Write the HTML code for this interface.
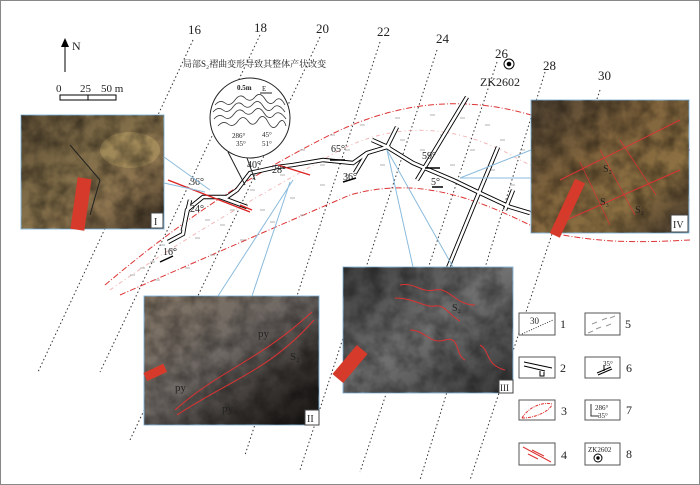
<!DOCTYPE html>
<html><head><meta charset="utf-8"><style>
html,body{margin:0;padding:0;background:#fff}
svg{display:block}
text{font-family:"Liberation Serif","Noto Serif CJK SC",serif;fill:#222}
</style></head><body>
<svg width="700" height="485" viewBox="0 0 700 485" xmlns="http://www.w3.org/2000/svg">
<defs>
<linearGradient id="g1" x1="0" y1="0" x2="1" y2="1"><stop offset="0" stop-color="#5e4e35"/><stop offset=".45" stop-color="#84704a"/><stop offset=".7" stop-color="#8e7550"/><stop offset="1" stop-color="#352b20"/></linearGradient>
<linearGradient id="g4" x1="0" y1="0" x2="1" y2="1"><stop offset="0" stop-color="#4f4232"/><stop offset=".4" stop-color="#80643d"/><stop offset=".7" stop-color="#8c7042"/><stop offset="1" stop-color="#40342a"/></linearGradient>
<linearGradient id="g2" x1="0" y1="0" x2="1" y2="1"><stop offset="0" stop-color="#857766"/><stop offset=".45" stop-color="#6e6864"/><stop offset=".75" stop-color="#34302d"/><stop offset="1" stop-color="#141210"/></linearGradient>
<linearGradient id="g3" x1="0" y1="0" x2="1" y2="1"><stop offset="0" stop-color="#3c3c3c"/><stop offset=".5" stop-color="#707070"/><stop offset="1" stop-color="#353535"/></linearGradient>
<filter id="tex" x="0" y="0" width="100%" height="100%"><feTurbulence type="fractalNoise" baseFrequency="0.06" numOctaves="3" seed="4"/><feColorMatrix type="matrix" values="0 0 0 0 0  0 0 0 0 0  0 0 0 0 0  0 0 0 -1.6 1.1"/></filter>
</defs>
<rect x="0.5" y="0.5" width="699" height="484" fill="#fff" stroke="#888"/>
<g stroke="#333" stroke-width="1" stroke-dasharray="1.5,2.5" fill="none">
<line x1="193" y1="40" x2="38" y2="372"/>
<line x1="260" y1="35" x2="100" y2="372"/>
<line x1="320" y1="37" x2="130" y2="440"/>
<line x1="380" y1="42" x2="245" y2="455"/>
<line x1="437" y1="50" x2="300" y2="470"/>
<line x1="497" y1="62" x2="360" y2="472"/>
<line x1="545" y1="72" x2="420" y2="480"/>
<line x1="600" y1="90" x2="470" y2="480"/>
</g>
<g font-size="13"><text x="188" y="34">16</text><text x="254" y="32">18</text><text x="316" y="33">20</text><text x="377" y="36">22</text><text x="436" y="43">24</text><text x="495" y="58">26</text><text x="543" y="70">28</text><text x="598" y="80">30</text></g>
<line x1="65" y1="72" x2="65" y2="43" stroke="#000"/><path d="M61,47 L65,38 L69,47 Z" fill="#000"/>
<text x="72" y="50" font-size="12">N</text>
<text x="56" y="92" font-size="11">0</text><text x="80" y="92" font-size="11">25</text><text x="101" y="92" font-size="11">50 m</text>
<rect x="60" y="95" width="56" height="5" fill="none" stroke="#000"/><line x1="88" y1="95" x2="88" y2="100" stroke="#000"/>
<path d="M105,285 C170,230 240,180 330,135 C380,110 430,100 480,105 C540,110 600,145 690,150" fill="none" stroke="#d33" stroke-dasharray="6,2,1,2"/>
<path d="M120,295 C200,260 280,225 350,195 C420,175 480,200 540,230 C600,245 650,242 690,240" fill="none" stroke="#d33" stroke-dasharray="6,2,1,2"/>
<path d="M110,290 C180,240 260,195 340,150 C400,120 460,125 520,160 C600,200 650,200 690,200" fill="none" stroke="#e99" stroke-dasharray="4,3,1,3" opacity=".7"/>
<g stroke="#999" stroke-width=".8" fill="none">
<path d="M130,275 h5 M150,262 h5 M170,250 h5 M195,238 h5 M220,225 h5 M260,210 h5 M290,198 h5 M320,185 h5 M345,175 h5 M300,150 h5 M330,135 h5 M360,125 h5 M395,118 h5 M430,115 h5 M460,118 h5 M485,125 h5 M500,140 h5 M520,150 h5 M560,170 h5 M590,180 h5 M620,190 h5 M650,195 h5 M400,140 h5 M420,150 h5 M440,135 h5 M470,150 h5 M490,170 h5 M510,185 h5 M380,165 h5 M345,150 h5 M320,165 h5 M280,175 h5 M250,190 h5 M230,210 h5 M205,220 h5 M180,230 h5 M160,245 h5 M140,268 h5 M450,165 h5 M540,190 h5 M560,215 h5 M600,225 h5 M630,215 h5 M660,220 h5 M300,215 h5 M270,222 h5 M240,240 h5 M210,255 h5 M185,268 h5 M155,280 h5"/>
</g>
<g fill="none" stroke-linejoin="miter">
<g stroke="#000" stroke-width="4.4">
<path d="M168,242 L183,234 L187,210 L203,197 L227,197 L237,190 L250,173 L277,167 L293,165 L323,160 L353,163 L367,153 L387,147 L413,163 L453,180 L480,193 L510,207 L530,213"/>
<path d="M387,147 L397,127 M367,153 L355,173 M467,97 L417,180 M498,147 L473,207 L448,268 M190,200 L183,230 M220,197 L247,207 M513,190 L505,210 M372,140 L390,148"/>
</g>
<g stroke="#fff" stroke-width="2.6">
<path d="M168,242 L183,234 L187,210 L203,197 L227,197 L237,190 L250,173 L277,167 L293,165 L323,160 L353,163 L367,153 L387,147 L413,163 L453,180 L480,193 L510,207 L530,213"/>
<path d="M387,147 L397,127 M367,153 L355,173 M467,97 L417,180 M498,147 L473,207 L448,268 M190,200 L183,230 M220,197 L247,207 M513,190 L505,210 M372,140 L390,148"/>
</g>
</g>
<g stroke="#d22" stroke-width="1.3"><line x1="168" y1="180" x2="250" y2="212"/><line x1="278" y1="165" x2="310" y2="175"/><line x1="240" y1="205" x2="252" y2="210"/></g>
<g font-size="10"><text x="190" y="185">36°</text><text x="190" y="212">24°</text><text x="163" y="255">16°</text><text x="247" y="168">40°</text><text x="272" y="173">28°</text><text x="331" y="152">65°</text><text x="343" y="180">36°</text><text x="422" y="159">59°</text><text x="431" y="185">5°</text></g>
<g stroke="#000" stroke-width="1.5"><line x1="160" y1="262" x2="173" y2="256"/><line x1="330" y1="160" x2="345" y2="160"/><line x1="343" y1="182" x2="356" y2="178"/><line x1="425" y1="168" x2="440" y2="168"/><line x1="432" y1="187" x2="443" y2="187"/></g>
<text x="183" y="67" font-size="9">局部S₂褶曲变形导致其整体产状改变</text>
<circle cx="250" cy="118" r="40" fill="#fff" stroke="#222"/>
<line x1="228" y1="152" x2="245" y2="185" stroke="#222"/><line x1="247" y1="158" x2="255" y2="180" stroke="#222"/>
<text x="237" y="90" font-size="7" font-weight="bold">0.5m</text><text x="262" y="91" font-size="7">E</text>
<path d="M260,93 h12" stroke="#222"/>
<g stroke="#333" fill="none" stroke-width=".8"><path d="M215,105 q5,-6 10,-2 t10,-3 t10,-2 t10,-1 t10,2 t10,2 t10,4"/><path d="M213,112 q5,-6 10,-2 t10,-3 t10,-2 t10,-1 t10,2 t10,2 t12,4"/><path d="M214,119 q5,-6 10,-2 t10,-3 t10,-2 t10,-1 t10,2 t10,2 t12,4"/><path d="M218,126 q5,-6 10,-2 t10,-3 t10,0 t10,-1 t10,2 t10,2 t8,2"/></g>
<g font-size="7"><text x="232" y="138">286°</text><text x="236" y="146">35°</text><text x="262" y="137">45°</text><text x="262" y="146">51°</text></g>
<circle cx="509" cy="64" r="5" fill="none" stroke="#000"/><circle cx="509" cy="64" r="2.3" fill="#000"/>
<text x="480" y="86" font-size="12">ZK2602</text>
<g stroke="#8bbbdc" stroke-width="1"><line x1="164" y1="157" x2="210" y2="190"/><line x1="164" y1="183" x2="205" y2="192"/><line x1="218" y1="296" x2="293" y2="180"/><line x1="252" y1="296" x2="290" y2="182"/><line x1="413" y1="267" x2="387" y2="150"/><line x1="453" y1="267" x2="387" y2="150"/><line x1="531" y1="150" x2="460" y2="178"/><line x1="531" y1="178" x2="460" y2="178"/></g>
<!-- photo I -->
<rect x="21" y="115" width="143" height="114" fill="url(#g1)" stroke="#8bbbdc"/>
<ellipse cx="130" cy="150" rx="30" ry="18" fill="#b39a62" opacity=".6"/>
<rect x="21" y="115" width="143" height="114" filter="url(#tex)" opacity=".5"/>
<path d="M70,145 L100,180 L90,215" stroke="#222" fill="none"/>
<rect x="74" y="178" width="14" height="52" fill="#d63a2a" transform="rotate(8 81 204)"/>
<rect x="151" y="213" width="12" height="15" fill="#fff" stroke="#444"/><text x="154" y="225" font-size="10">I</text>
<!-- photo IV -->
<rect x="531" y="100" width="158" height="133" fill="url(#g4)" stroke="#8bbbdc"/>
<rect x="531" y="100" width="158" height="133" filter="url(#tex)" opacity=".5"/>
<path d="M560,180 L680,120 M555,225 L680,170" stroke="#d33" fill="none"/>
<path d="M580,162 L610,225 M600,150 L635,215 M620,140 L656,195" stroke="#d33" fill="none" stroke-width=".7"/>
<rect x="562" y="178" width="11" height="60" fill="#d63a2a" transform="rotate(25 567 208)"/>
<g fill="#d33" font-size="10"><text x="603" y="172">S₂</text><text x="600" y="205">S₃</text><text x="635" y="213">S₃</text></g>
<rect x="671" y="215" width="17" height="17" fill="#fff" stroke="#444"/><text x="673" y="228" font-size="10">IV</text>
<!-- photo II -->
<rect x="144" y="296" width="175" height="129" fill="url(#g2)" stroke="#8bbbdc"/>
<rect x="144" y="296" width="175" height="129" filter="url(#tex)" opacity=".45"/>
<path d="M175,410 C220,370 260,360 312,312 M177,415 C230,380 270,370 314,320" stroke="#d33" fill="none"/>
<rect x="144" y="368" width="22" height="9" fill="#d63a2a" transform="rotate(-25 155 372)"/>
<g fill="#e8e020" font-size="11"><text x="258" y="337">py</text><text x="175" y="391">py</text><text x="222" y="412">py</text></g>
<text x="290" y="360" font-size="11" fill="#d33">S₂</text>
<rect x="305" y="410" width="14" height="15" fill="#fff" stroke="#444"/><text x="307" y="422" font-size="10">II</text>
<!-- photo III -->
<rect x="343" y="267" width="170" height="126" fill="url(#g3)" stroke="#8bbbdc"/>
<rect x="343" y="267" width="170" height="126" filter="url(#tex)" opacity=".45"/>
<g stroke="#d33" fill="none"><path d="M400,285 c15,-3 20,8 35,5 s20,15 40,15"/><path d="M395,298 c20,0 30,10 40,8 s15,10 25,15"/><path d="M410,330 c15,0 20,15 35,10 s10,15 20,20"/><path d="M480,345 c10,5 5,20 25,25"/></g>
<text x="452" y="311" font-size="10" fill="#d33">S₂</text>
<rect x="343" y="345" width="14" height="38" fill="#d63a2a" transform="rotate(40 350 364)"/>
<rect x="499" y="380" width="14" height="13" fill="#fff" stroke="#444"/><text x="500" y="391" font-size="9">III</text>
<!-- legend -->
<g fill="#fff" stroke="#555" stroke-width="1"><rect x="519" y="313" width="36" height="22"/><rect x="585" y="313" width="35" height="22"/><rect x="519" y="357" width="36" height="21"/><rect x="585" y="357" width="35" height="21"/><rect x="519" y="400" width="36" height="20"/><rect x="585" y="400" width="35" height="20"/><rect x="519" y="443" width="36" height="22"/><rect x="585" y="443" width="35" height="22"/></g>
<g font-size="12"><text x="560" y="328">1</text><text x="625" y="328">5</text><text x="560" y="372">2</text><text x="626" y="372">6</text><text x="561" y="415">3</text><text x="626" y="414">7</text><text x="561" y="459">4</text><text x="626" y="458">8</text></g>
<text x="530" y="324" font-size="9">30</text><line x1="522" y1="334" x2="553" y2="320" stroke="#333" stroke-dasharray="1,1.5"/>
<path d="M588,333 l5,-2 M596,329 l5,-2 M606,326 l5,-2 M592,324 l5,-2 M602,320 l5,-2 M610,318 l5,-2" stroke="#999"/>
<path d="M524,362 L552,368 M524,366 L545,371 M540,371 v5 h4 v-4" stroke="#000" fill="none"/>
<path d="M597,373 l14,-6 M598,375 l14,-6 M604,371 v-6" stroke="#000" fill="none"/><text x="603" y="366" font-size="7">35°</text>
<path d="M522,418 C530,405 545,402 552,404 M522,418 C535,418 548,412 552,405" stroke="#d33" stroke-dasharray="3,1,1,1" fill="none"/>
<path d="M591,404 v12 h8" stroke="#333" fill="none"/><text x="595" y="410" font-size="7">286°</text><text x="598" y="418" font-size="7">35°</text>
<path d="M523,447 L551,462 M532,450 L544,456 M528,454 L538,459" stroke="#d33"/>
<text x="588" y="452" font-size="7">ZK2602</text><circle cx="598" cy="458" r="4" fill="none" stroke="#000"/><circle cx="598" cy="458" r="1.7" fill="#000"/>
</svg>
</body></html>
